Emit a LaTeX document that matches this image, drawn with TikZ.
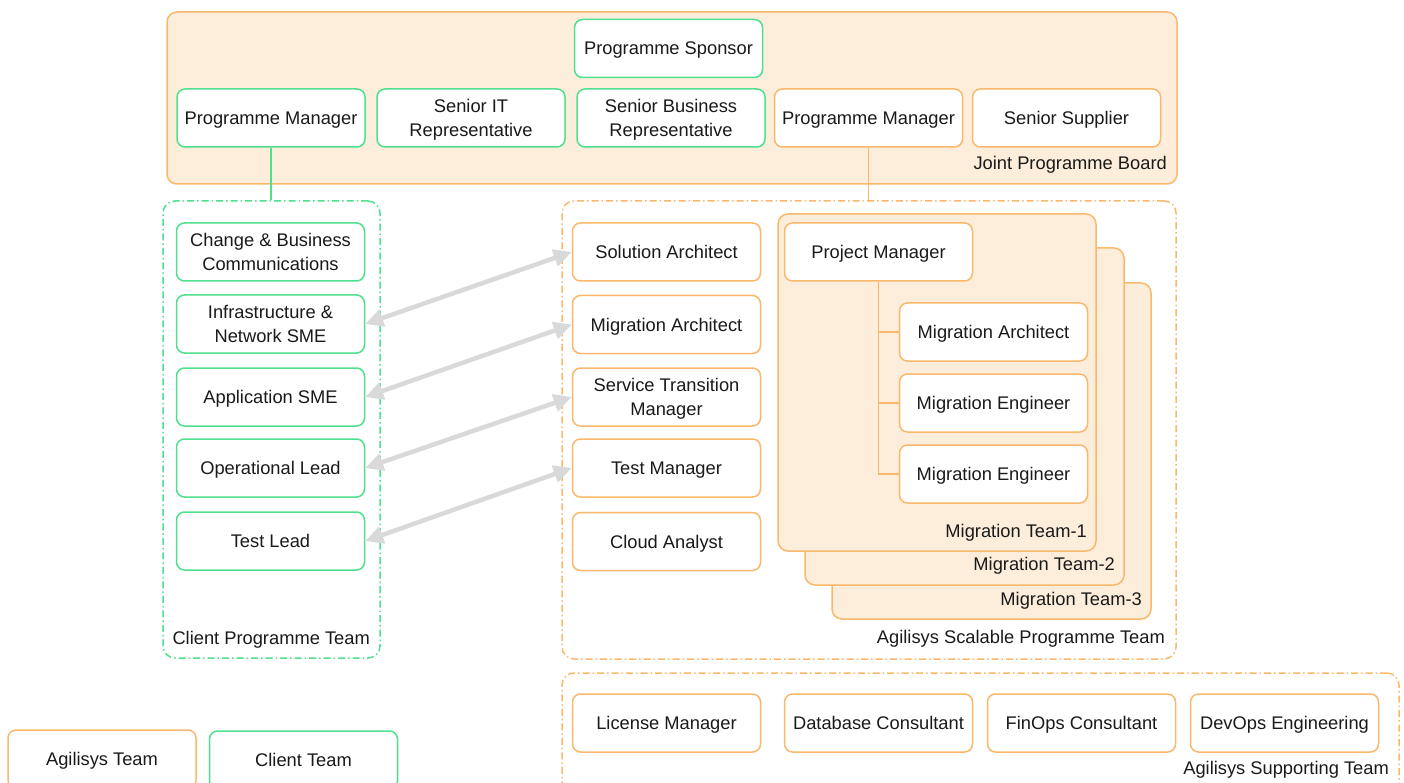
\documentclass[tikz,border=0pt]{standalone}
\usepackage{fontspec}
\setmainfont{Liberation Sans}
\usetikzlibrary{arrows.meta}
\definecolor{grn}{HTML}{4FE08E}
\definecolor{org}{HTML}{F9B86C}
\definecolor{orgfill}{HTML}{FDEEDC}
\definecolor{arrowgray}{HTML}{D9D9D9}
\definecolor{txt}{HTML}{1A1A1A}
\begin{document}
\begin{tikzpicture}[x=1pt,y=-1pt,
  every node/.style={font=\fontsize{18.3}{24}\selectfont, text=txt, text depth=0pt},
  box/.style={draw, line width=1.5pt, rounded corners=8pt, fill=white, minimum width=188pt, minimum height=58pt, inner sep=2pt, align=center},
  gbox/.style={box, draw=grn},
  obox/.style={box, draw=org},
  panel/.style={draw=org, fill=orgfill, line width=1.5pt, rounded corners=10pt, inner sep=0pt},
  dashbox/.style={line width=1.5pt, rounded corners=12pt, inner sep=0pt, dash pattern=on 7pt off 3pt on 1.5pt off 3pt},
  lbl/.style={anchor=east, inner sep=0pt},
  glink/.style={draw=grn, line width=1.2pt},
  olink/.style={draw=org, line width=1.2pt},
  biarrow/.style={draw=arrowgray, line width=4.5pt, {Triangle[length=18pt,width=17pt]}-{Triangle[length=18pt,width=17pt]}, shorten <=0pt, shorten >=0pt}
]
\useasboundingbox (0,0) rectangle (1404,783);

% Joint Programme Board
\node[panel, minimum width=1010pt, minimum height=172pt] (jpb) at (672,98) {};
\node[lbl] (jpblbl) at (1167,163) {Joint Programme Board};
\node[gbox] (sponsor) at (668.5,48.5) {Programme Sponsor};
\node[gbox] (pm1) at (271,118) {Programme Manager};
\node[gbox] (sit) at (471,118) {Senior IT\\Representative};
\node[gbox] (sbr) at (671,118) {Senior Business\\Representative};
\node[obox] (pm2) at (868.5,118) {Programme Manager};
\node[obox] (ss) at (1066.5,118) {Senior Supplier};

% Client Programme Team
\node[dashbox, draw=grn, minimum width=217pt, minimum height=457pt] (cpt) at (271.5,429.5) {};
\node[lbl] (cptlbl) at (370,638) {Client Programme Team};
\node[gbox] (cbc) at (270.5,252) {Change \& Business\\Communications};
\node[gbox] (inf) at (270.5,324) {Infrastructure \&\\Network SME};
\node[gbox] (app) at (270.5,397) {Application SME};
\node[gbox] (opl) at (270.5,468) {Operational Lead};
\node[gbox] (tl) at (270.5,541) {Test Lead};

% Agilisys Scalable Programme Team
\node[dashbox, draw=org, minimum width=614pt, minimum height=458pt] (aspt) at (869,430) {};
\node[lbl] (asptlbl) at (1165,637) {Agilisys Scalable Programme Team};
\node[obox] (sa) at (666.5,252) {Solution Architect};
\node[obox] (ma) at (666.5,324.5) {Migration Architect};
\node[obox] (stm) at (666.5,397) {Service Transition\\Manager};
\node[obox] (tm) at (666.5,468) {Test Manager};
\node[obox] (ca) at (666.5,541.5) {Cloud Analyst};

% Migration teams
\node[panel, minimum width=319pt, minimum height=336pt] (mt3) at (991.5,451) {};
\node[lbl] (mt3lbl) at (1142,599) {Migration Team-3};
\node[panel, minimum width=319pt, minimum height=337pt] (mt2) at (964.5,416.5) {};
\node[lbl] (mt2lbl) at (1115,564) {Migration Team-2};
\node[panel, minimum width=318pt, minimum height=337pt] (mt1) at (937,382.5) {};
\node[lbl] (mt1lbl) at (1087,531) {Migration Team-1};
\node[obox] (prm) at (878.5,252) {Project Manager};
\node[obox] (mma) at (993.5,332) {Migration Architect};
\node[obox] (me1) at (993.5,403) {Migration Engineer};
\node[obox] (me2) at (993.5,474) {Migration Engineer};
\draw[olink] (prm.south) -- (prm.south |- me2.west) -- (me2.west);
\draw[olink] (prm.south |- mma.west) -- (mma.west);
\draw[olink] (prm.south |- me1.west) -- (me1.west);

% links from board
\draw[glink] (pm1.south) -- (pm1.south |- cpt.north);
\draw[olink] (pm2.south) -- (pm2.south |- aspt.north);

% cross arrows
\draw[biarrow] (inf.east) -- (sa.west);
\draw[biarrow] (app.east) -- (ma.west);
\draw[biarrow] (opl.east) -- (stm.west);
\draw[biarrow] (tl.east) -- (tm.west);

% Agilisys Supporting Team
\node[dashbox, draw=org, minimum width=837pt, minimum height=127pt] (ast) at (980.5,736.5) {};
\node[lbl] (astlbl) at (1389,768) {Agilisys Supporting Team};
\node[obox] (lm) at (666.5,723) {License Manager};
\node[obox] (dc) at (878.5,723) {Database Consultant};
\node[obox] (fc) at (1081.5,723) {FinOps Consultant};
\node[obox] (de) at (1284.5,723) {DevOps Engineering};

% legend
\node[obox] (leg1) at (102,759) {Agilisys Team};
\node[gbox] (leg2) at (303.5,760) {Client Team};
\end{tikzpicture}
\end{document}
